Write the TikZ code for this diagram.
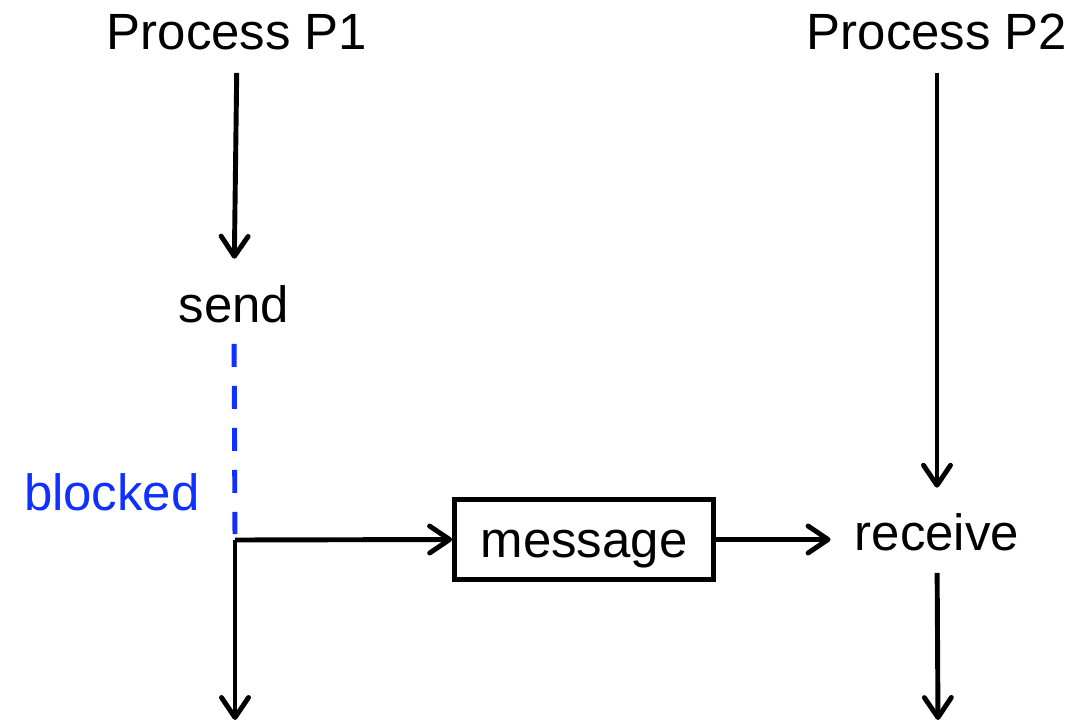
\documentclass[tikz,border=0pt]{standalone}
\usepackage{fontspec}
\setmainfont{Liberation Sans}
\usetikzlibrary{arrows.meta}
\definecolor{blockblue}{RGB}{16,48,255}
\begin{document}
\begin{tikzpicture}[x=0.02cm, y=-0.02cm,
    lbl/.style={inner sep=0pt, anchor=base, font=\fontsize{29}{34}\selectfont},
    flow/.style={line width=2.8pt, -{Straight Barb[length=4mm, width=5.4mm, round]}},
    wait/.style={line width=2.8pt, blockblue, dash pattern=on 0.46cm off 0.38cm}]
    \useasboundingbox (0,0) rectangle (1075,723);

    % Processes
    \node[lbl] (p1) at (237,50) {Process P1};
    \node[lbl] (p2) at (937,50) {Process P2};

    % Calls
    \node[lbl] (send) at (234,322) {send};
    \node[lbl] (recv) at (937,550) {receive};
    \node[lbl, anchor=base east, text=blockblue] (blocked) at (200,510) {blocked};

    % Message box
    \node[draw, line width=2.8pt, minimum width=5.18cm, minimum height=1.6cm,
          text height=21pt, text depth=0pt, inner sep=0pt,
          font=\fontsize{29}{34}\selectfont] (msg) at (584,539.5) {message};

    \coordinate (corner) at (235,540);
    \coordinate (end1) at (235,720);
    \coordinate (end2) at (938,720);

    % P1 side
    \draw[flow, shorten <=0.44cm, shorten >=0.52cm] (p1.south) -- (send.north);
    \draw[wait, shorten <=0.42cm, shorten >=0.12cm] (send.south) -- (corner);
    \draw[flow] (corner) -- (msg.west);
    \draw[flow] (corner) -- (end1);

    % P2 side
    \draw[flow] (msg.east) -- ([xshift=-0.48cm]msg.east -| recv.west);
    \draw[flow, shorten <=0.44cm, shorten >=0.5cm] (p2.south) -- (recv.north);
    \draw[flow, shorten <=0.44cm] (recv.south) -- (end2);
\end{tikzpicture}
\end{document}
